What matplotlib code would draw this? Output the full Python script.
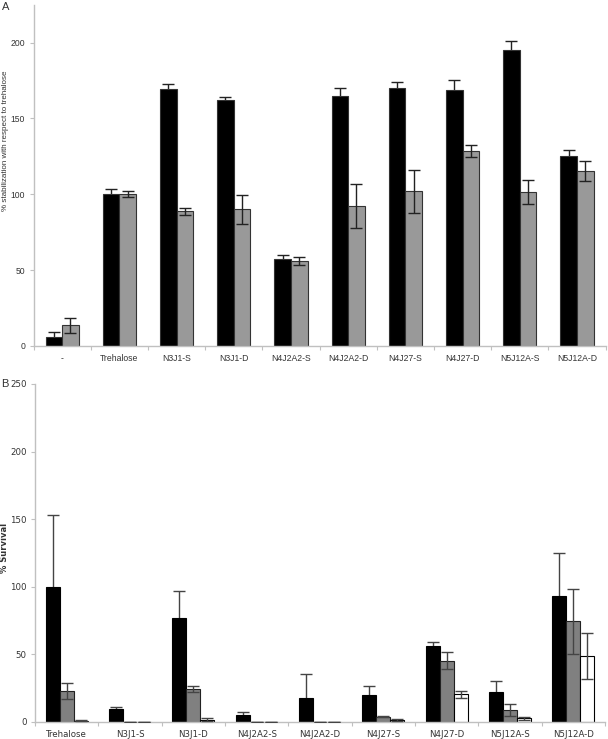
import numpy as np
import matplotlib
matplotlib.use("Agg")
import matplotlib.pyplot as plt

# panel A data
cats_a = ["-", "Trehalose", "N3J1-S", "N3J1-D", "N4J2A2-S", "N4J2A2-D",
          "N4J27-S", "N4J27-D", "N5J12A-S", "N5J12A-D"]
black_a = [6, 100, 169.5, 162, 57, 164.5, 170, 169, 195, 125.5]
black_a_err = [3, 3.7, 3, 2, 3, 5.8, 4, 6.5, 6.3, 3.5]
gray_a = [13.5, 100, 88.7, 90, 56, 92.5, 102, 128.7, 101.7, 115.3]
gray_a_err = [4.8, 2, 2.4, 9.5, 2.7, 14.5, 14.3, 4, 8, 6.5]

# panel B data
cats_b = ["Trehalose", "N3J1-S", "N3J1-D", "N4J2A2-S", "N4J2A2-D",
          "N4J27-S", "N4J27-D", "N5J12A-S", "N5J12A-D"]
black_b = [100, 9.5, 76.5, 5, 17.3, 19.8, 56.3, 22.2, 93.3]
black_b_err = [52.8, 1.6, 20.5, 2.4, 18, 7, 3, 8.2, 31.8]
gray_b = [22.7, 0, 24.2, 0, 0, 3.7, 45.2, 8.4, 74.3]
gray_b_err = [6, 0, 2.5, 0, 0, 0.5, 6.4, 4.5, 24]
white_b = [0.8, 0, 1.5, 0, 0, 1.3, 20.3, 2.5, 48.6]
white_b_err = [0.3, 0, 1, 0, 0, 1, 2.4, 1.2, 16.8]

axis_col = "#c0c0c0"
text_col = "#333333"

fig = plt.figure(figsize=(6.08, 7.39), dpi=100)

def style_axes(ax, ncat):
    for s in ["top", "right"]:
        ax.spines[s].set_visible(False)
    for s in ["left", "bottom"]:
        ax.spines[s].set_color(axis_col)
        ax.spines[s].set_linewidth(1.0)
    ax.set_xlim(0, ncat)
    ax.set_xticks(np.arange(ncat + 1), minor=False)
    ax.set_xticklabels([])
    ax.set_xticks(np.arange(ncat) + 0.5, minor=True)
    ax.tick_params(axis="x", which="major", length=3, color=axis_col, direction="out")
    ax.tick_params(axis="x", which="minor", length=0, colors=text_col, pad=6)
    ax.tick_params(axis="y", length=3, color=axis_col, colors=text_col, pad=3)

# ---- panel A ----
ax1 = fig.add_axes([0.0551, 0.532, 0.9409, 0.4616])
x = np.arange(len(cats_a)) + 0.5
w = 0.29
ek = dict(elinewidth=1.0, ecolor="#222222", capsize=4, capthick=1.0)
ax1.bar(x - w / 2, black_a, w, color="black", edgecolor="#333333", linewidth=0.8,
        yerr=black_a_err, error_kw=dict(ek, zorder=1), zorder=2)
ax1.bar(x + w / 2, gray_a, w, color="#999999", edgecolor="#333333", linewidth=0.8,
        yerr=gray_a_err, error_kw=dict(ek, zorder=3), zorder=2)
style_axes(ax1, len(cats_a))
ax1.set_ylim(0, 225)
ax1.set_yticks([0, 50, 100, 150, 200])
ax1.set_xticklabels(cats_a, minor=True)
for lab in ax1.get_xticklabels(minor=True) + ax1.get_yticklabels():
    lab.set_family("Liberation Sans")
    lab.set_fontsize(6.2)
ax1.set_ylabel("% stabilization with respect to trehalose", family="Liberation Sans",
               fontsize=5.8, color=text_col)
ax1.yaxis.set_label_coords(0.0155, 1 - 141 / 739, transform=fig.transFigure)
fig.text(0.003, 0.997, "A", family="Liberation Sans", fontsize=8, va="top", color=text_col)

# ---- panel B ----
ax2 = fig.add_axes([0.0576, 0.0234, 0.9374, 0.457])
x = np.arange(len(cats_b)) + 0.5
w = 0.22
ek2 = dict(elinewidth=1.0, ecolor="#444444", capsize=4, capthick=1.0)
ax2.bar(x - w, black_b, w, color="black", edgecolor="black", linewidth=0.8,
        yerr=black_b_err, error_kw=dict(ek2, zorder=1), zorder=2)
ax2.bar(x, gray_b, w, color="#808080", edgecolor="#222222", linewidth=0.8,
        yerr=gray_b_err, error_kw=dict(ek2, zorder=3), zorder=2)
ax2.bar(x + w, white_b, w, color="white", edgecolor="black", linewidth=0.8,
        yerr=white_b_err, error_kw=dict(ek2, zorder=3), zorder=2)
style_axes(ax2, len(cats_b))
ax2.set_ylim(0, 250)
ax2.set_yticks([0, 50, 100, 150, 200, 250])
ax2.set_xticklabels(cats_b, minor=True)
for lab in ax2.get_xticklabels(minor=True) + ax2.get_yticklabels():
    lab.set_family("DejaVu Sans")
    lab.set_fontsize(6.2)
ax2.set_ylabel("% Survival", family="DejaVu Sans", fontsize=6, fontweight="bold",
               color=text_col)
ax2.yaxis.set_label_coords(0.0155, 1 - 548 / 739, transform=fig.transFigure)
fig.text(0.002, 0.487, "B", family="Liberation Sans", fontsize=8, va="top", color=text_col)

fig.savefig("out.png", dpi=100)
